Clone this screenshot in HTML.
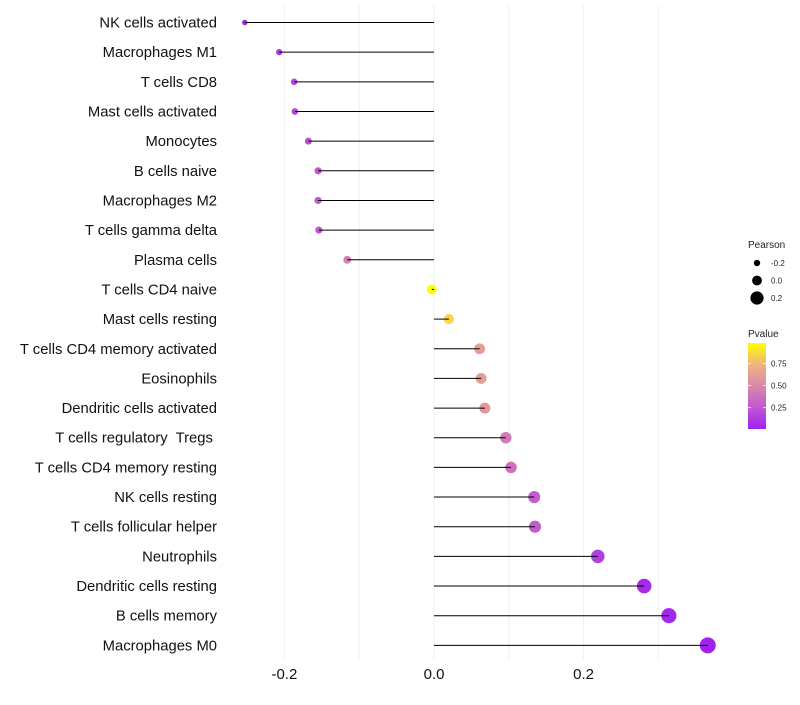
<!DOCTYPE html>
<html><head><meta charset="utf-8"><style>
body{margin:0;background:#fff;font-family:"Liberation Sans",sans-serif}
text{white-space:pre}
</style></head><body>
<svg id="chart" width="800" height="700" xmlns="http://www.w3.org/2000/svg"></svg>
<script>
const categories=["NK cells activated","Macrophages M1","T cells CD8","Mast cells activated","Monocytes","B cells naive","Macrophages M2","T cells gamma delta","Plasma cells","T cells CD4 naive","Mast cells resting","T cells CD4 memory activated","Eosinophils","Dendritic cells activated","T cells regulatory  Tregs ","T cells CD4 memory resting","NK cells resting","T cells follicular helper","Neutrophils","Dendritic cells resting","B cells memory","Macrophages M0"];
const pearson=[-0.253,-0.207,-0.187,-0.186,-0.168,-0.155,-0.155,-0.154,-0.116,-0.003,0.020,0.061,0.063,0.068,0.096,0.103,0.134,0.135,0.219,0.281,0.314,0.366];
const pvalue=[0.06,0.12,0.18,0.18,0.22,0.26,0.26,0.26,0.45,0.98,0.85,0.62,0.62,0.58,0.42,0.38,0.28,0.28,0.14,0.06,0.04,0.02];
const xTicks=[-0.2,0.0,0.2];
const xTickLabels=["-0.2","0.0","0.2"];
const xMinor=[-0.1,0.1,0.3];
const sizeBreaks=[-0.2,0.0,0.2];
const pBreaks=[0.25,0.5,0.75];

const svg=document.getElementById('chart');
const NS='http://www.w3.org/2000/svg';
function mk(t,a,p){const e=document.createElementNS(NS,t);for(const k in a)e.setAttribute(k,a[k]);(p||svg).appendChild(e);return e;}
const x=v=>434+v*748;
const y=i=>22.5+i*29.66;
const rad=v=>3.2+(v+0.2)/0.4*3.4;
const pMin=0.01,pMax=0.98;
const stops=[[0,[160,32,240]],[0.25,[192,88,208]],[0.5,[218,136,170]],[0.75,[238,180,128]],[1,[255,255,0]]];
function col(p){let t=Math.max(0,Math.min(1,(p-pMin)/(pMax-pMin)));for(let k=1;k<stops.length;k++){if(t<=stops[k][0]){const a=stops[k-1],b=stops[k];const f=(t-a[0])/(b[0]-a[0]);const c=a[1].map((v,j)=>Math.round(v+(b[1][j]-v)*f));return `rgb(${c})`;}}return 'rgb(255,255,0)';}

xTicks.concat(xMinor).forEach(v=>{const g=mk('line',{x1:x(v),x2:x(v),y1:5,y2:660,stroke:'#f0f0f0','stroke-width':1});

});
xTicks.forEach((v,i)=>{const t=mk('text',{x:x(v),y:679,'text-anchor':'middle','font-size':15,fill:'#111'});t.textContent=xTickLabels[i];

});
categories.forEach((c,i)=>{
const t=mk('text',{x:217,y:y(i)+5,'text-anchor':'end','font-size':14.8,fill:'#111'});t.textContent=c;


const d=mk('circle',{cx:x(pearson[i]),cy:y(i),r:rad(pearson[i]),fill:col(pvalue[i])});


const l=mk('line',{x1:x(0),x2:x(pearson[i]),y1:y(i),y2:y(i),stroke:'#000','stroke-width':1});


});
const lt=mk('text',{x:748,y:248,'font-size':10,fill:'#222'});lt.textContent='Pearson';


sizeBreaks.forEach((v,i)=>{const cy=263+i*17.5;
const c=mk('circle',{cx:757,cy:cy,r:rad(v),fill:'#000'});


const t=mk('text',{x:771,y:cy+3,'font-size':8,fill:'#222'});t.textContent=v.toFixed(1);

});
const pt=mk('text',{x:748,y:337,'font-size':10,fill:'#222'});pt.textContent='Pvalue';


const defs=mk('defs',{});const lg=mk('linearGradient',{id:'pg',x1:0,y1:1,x2:0,y2:0},defs);
stops.forEach(s=>mk('stop',{offset:s[0],'stop-color':`rgb(${s[1]})`},lg));
const bar=mk('rect',{x:748,y:343,width:18,height:86,fill:'url(#pg)'});


pBreaks.forEach(v=>{const yy=429-(v-pMin)/(pMax-pMin)*86;
mk('line',{x1:748,x2:751,y1:yy,y2:yy,stroke:'#fff','stroke-width':0.7});mk('line',{x1:763,x2:766,y1:yy,y2:yy,stroke:'#fff','stroke-width':0.7});
const t=mk('text',{x:771,y:yy+3,'font-size':8,fill:'#222'});t.textContent=v.toFixed(2);

});
</script>
</body></html>
